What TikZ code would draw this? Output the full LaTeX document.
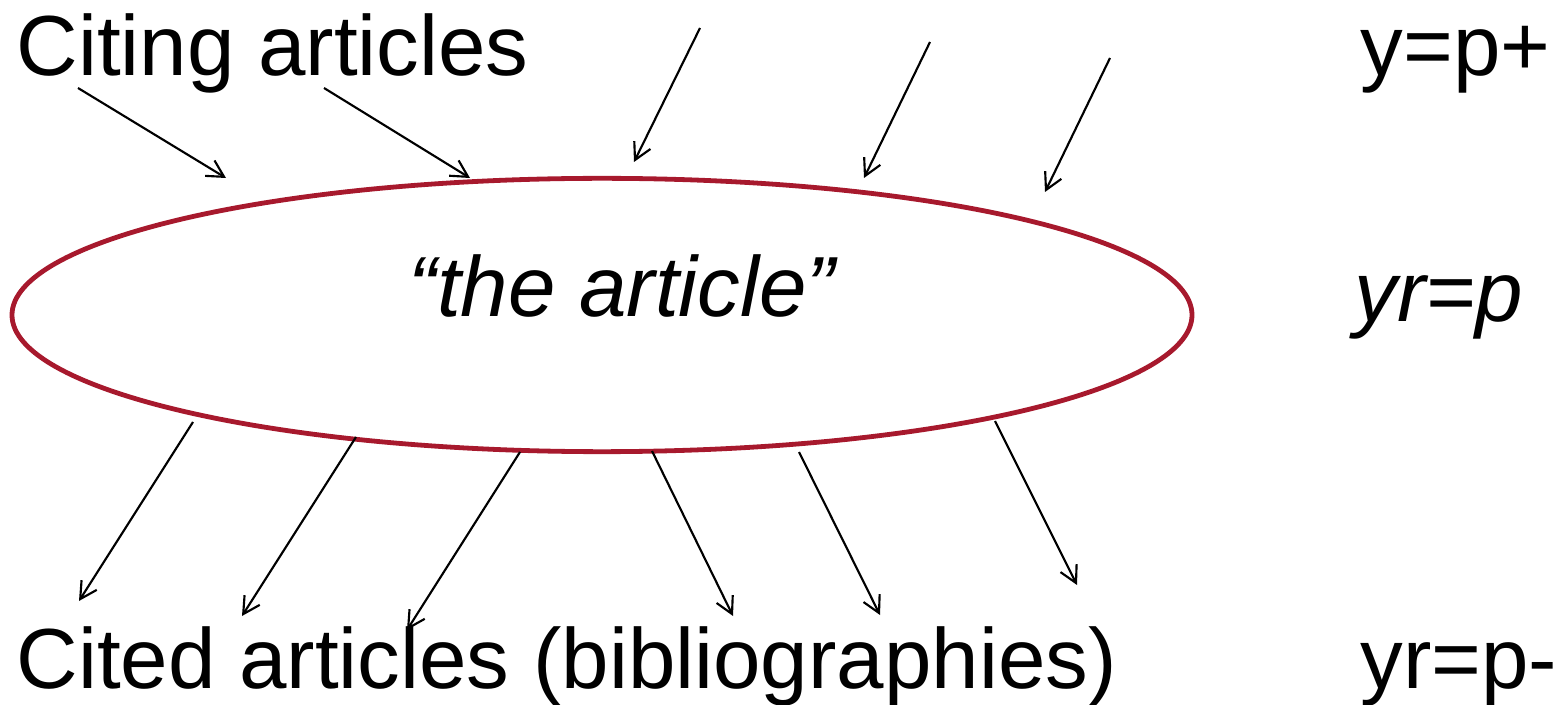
\documentclass[tikz,border=0pt]{standalone}
\usepackage{fontspec}
\setmainfont{Liberation Sans}
\usetikzlibrary{arrows.meta,shapes.geometric}
\definecolor{artred}{RGB}{167,25,45}

\tikzset{every picture/.style={line width=0.75pt}}
\tikzset{
  big/.style={anchor=base west,inner sep=0pt,font=\fontsize{64}{76}\selectfont},
  refline/.style={line width=1.6pt,-{Straight Barb[length=12.5pt,width=13.5pt]}}
}

\begin{document}
\begin{tikzpicture}[x=0.75pt,y=0.75pt,yscale=-1,xscale=1]
\useasboundingbox (0,0) rectangle (1559,705);

%Shape: Ellipse [id:art]
\node [ellipse,draw=artred,line width=3.6pt,inner sep=0pt,minimum width=885pt,minimum height=205pt] (art) at (602,315) {};

% Text Node
\node [big] (citing) at (16,76) {Citing articles};
% Text Node
\node [big] (cited) at (16,688) {Cited articles (bibliographies)};
% Text Node
\node [big,anchor=base,font=\fontsize{64}{76}\selectfont\itshape] (the) at (622,317) {“the article”};
% Text Node
\node [big] (yplus) at (1360,76) {y=p+};
% Text Node
\node [big,font=\fontsize{64}{76}\selectfont\itshape] (yr) at (1354,322) {yr=p};
% Text Node
\node [big] (yminus) at (1360,688) {yr=p-};

% citing ends
\coordinate (c1a) at (78,88);    \coordinate (c1b) at (226,178);
\coordinate (c2a) at (324,88);   \coordinate (c2b) at (470,178);
\coordinate (c3a) at (700,28);   \coordinate (c3b) at (634,162);
\coordinate (c4a) at (930,42);   \coordinate (c4b) at (864,178);
\coordinate (c5a) at (1110,58);  \coordinate (c5b) at (1045,192);
% cited ends
\coordinate (b1a) at (193,422);  \coordinate (b1b) at (79,601);
\coordinate (b2a) at (356,437);  \coordinate (b2b) at (242,616);
\coordinate (b3a) at (520,452);  \coordinate (b3b) at (407,630);
\coordinate (b4a) at (652,451);  \coordinate (b4b) at (733,616);
\coordinate (b5a) at (799,452);  \coordinate (b5b) at (880,615);
\coordinate (b6a) at (995,421);  \coordinate (b6b) at (1077,585);

%Straight Lines
\draw [refline] (c1a) -- (c1b);
\draw [refline] (c2a) -- (c2b);
\draw [refline] (c3a) -- (c3b);
\draw [refline] (c4a) -- (c4b);
\draw [refline] (c5a) -- (c5b);
%Straight Lines
\draw [refline] (b1a) -- (b1b);
\draw [refline] (b2a) -- (b2b);
\draw [refline] (b3a) -- (b3b);
\draw [refline] (b4a) -- (b4b);
\draw [refline] (b5a) -- (b5b);
\draw [refline] (b6a) -- (b6b);

\end{tikzpicture}
\end{document}
